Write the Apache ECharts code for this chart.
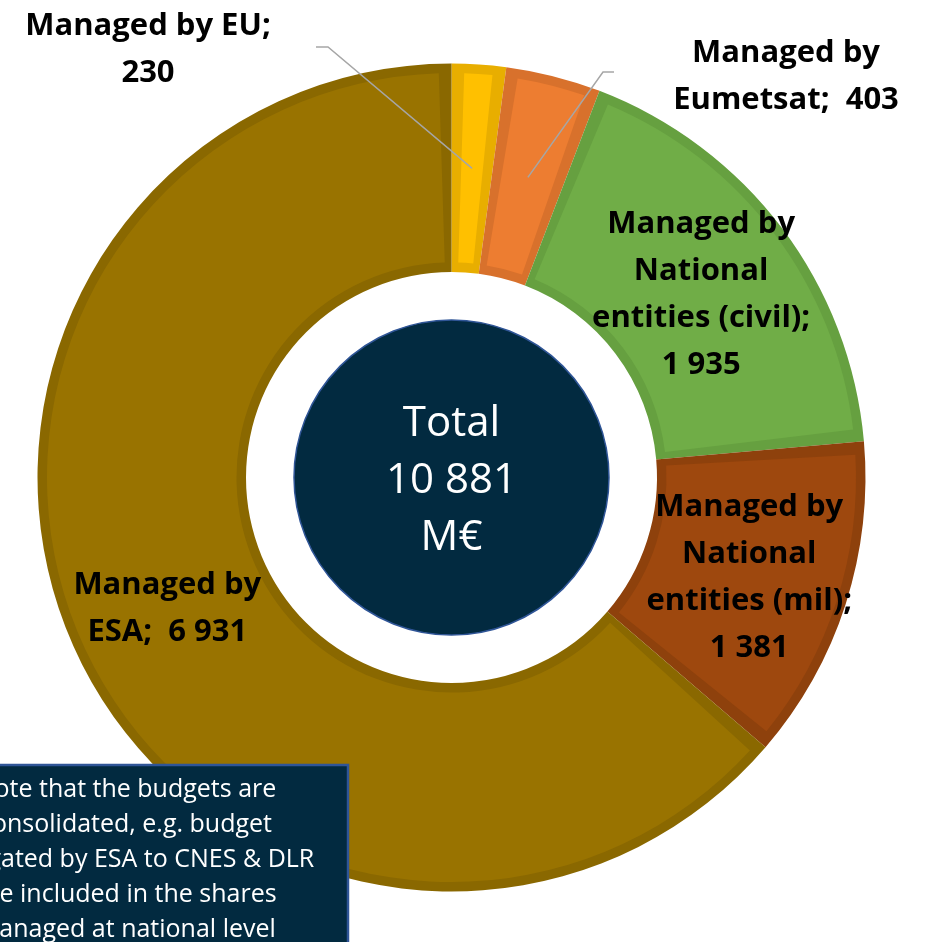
<!DOCTYPE html>
<html>
<head>
<meta charset="utf-8">
<title>Budget by managing entity</title>
<script src="https://cdn.jsdelivr.net/npm/echarts@6/dist/echarts.min.js"></script>
<style>
  html, body { margin: 0; padding: 0; background: #fff; }
  #chart { width: 930px; height: 942px; }
</style>
</head>
<body>
<div id="chart"></div>
<script>
// budget shares, M€ (clockwise from 12 o'clock)
const categories = ['Managed by EU;', 'Managed by\nEumetsat;', 'Managed by\nNational\nentities (civil);', 'Managed by\nNational\nentities (mil);', 'Managed by\nESA;']
const values = [230, 403, 1935, 1381, 6931]
const separators = ['\n', '  ', '\n', '\n', '  ']
const totalLines = ['Total', '10 881', 'M€']
const noteLines = ['Note that the budgets are', 'consolidated, e.g. budget', 'delegated by ESA to CNES & DLR', 'are included in the shares', 'managed at national level']

const fillColors = ['#FFC000', '#ED7D31', '#70AD47', '#9E480E', '#997300']
const edgeColors = ['#E8AE00', '#D8712C', '#66A040', '#8E410C', '#8A6800']
const navy = '#022A40'
const navyEdge = '#2F5597'

const cx = 451.5
const cy = 477.5
const rIn = 205.5
const rOut = 414
const edge = 9.5 // inner border thickness

// labels pulled out of the ring (EU, Eumetsat): label centre + leader elbow
const outside = {
  0: { x: 148, y: 50, elbow: [328, 47], end: [316, 47] },
  1: { x: 786, y: 77, elbow: [603, 72], end: [614, 72] }
}
// small nudges for the labels sitting in the ring
const insideOffset = { 2: [0, 6], 3: [0, 4], 4: [0, 1] }

const fmt = v => String(v).replace(/\B(?=(\d{3})+(?!\d))/g, ' ')
const sum = values.reduce((a, b) => a + b, 0)

// point in the middle of a slice (mid angle, mid radius)
function sliceMid(i) {
  let before = 0
  for (let k = 0; k < i; k++) before += values[k]
  const a = (before + values[i] / 2) / sum * Math.PI * 2
  const rm = (rIn + rOut) / 2
  return [cx + rm * Math.sin(a), cy - rm * Math.cos(a)]
}

const chart = echarts.init(document.getElementById('chart'))

const labelData = values.map((v, i) => {
  const item = { value: v, name: categories[i] }
  if (outside[i]) {
    item.label = { position: 'outside', width: 320 }
    item.labelLine = { show: true }
  } else {
    item.label = { position: 'inside', offset: insideOffset[i] }
    item.labelLine = { show: false }
  }
  return item
})

const option = {
  animation: false,
  series: [
    {
      // ring in the border colours
      type: 'pie',
      silent: true,
      z: 1,
      center: [cx, cy],
      radius: [rIn, rOut],
      startAngle: 90,
      label: { show: false },
      labelLine: { show: false },
      data: values.map((v, i) => ({ value: v, name: categories[i], itemStyle: { color: edgeColors[i] } }))
    },
    {
      // inner fill of each slice
      type: 'pie',
      silent: true,
      z: 2,
      center: [cx, cy],
      radius: [rIn + edge, rOut - edge],
      startAngle: 90,
      padAngle: 3.6,
      label: { show: false },
      labelLine: { show: false },
      data: values.map((v, i) => ({ value: v, name: categories[i], itemStyle: { color: fillColors[i] } }))
    },
    {
      // transparent copy that carries the labels and leader lines on top
      type: 'pie',
      silent: true,
      z: 3,
      center: [cx, cy],
      radius: [rIn + edge, rOut - edge],
      startAngle: 90,
      itemStyle: { color: 'rgba(0,0,0,0)' },
      label: {
        show: true,
        fontFamily: 'Open Sans',
        fontWeight: 'bold',
        fontSize: 31,
        lineHeight: 47,
        color: '#000',
        overflow: 'none',
        formatter: p => categories[p.dataIndex] + separators[p.dataIndex] + fmt(values[p.dataIndex])
      },
      labelLine: {
        lineStyle: { color: '#A6A6A6', width: 1.5 }
      },
      labelLayout: p => {
        const o = outside[p.dataIndex]
        if (!o) return {}
        return {
          x: o.x,
          y: o.y,
          align: 'center',
          verticalAlign: 'middle',
          labelLinePoints: [sliceMid(p.dataIndex), o.elbow, o.end]
        }
      },
      data: labelData
    },
    {
      // centre disc with the total
      type: 'pie',
      silent: true,
      z: 2,
      center: [cx, cy],
      radius: [0, 157.5],
      itemStyle: { color: navy, borderColor: navyEdge, borderWidth: 1.5 },
      label: {
        show: true,
        position: 'center',
        formatter: totalLines.join('\n'),
        color: '#fff',
        fontFamily: 'Open Sans',
        fontSize: 42,
        lineHeight: 57,
        offset: [0, 4]
      },
      labelLine: { show: false },
      data: [{ value: sum, name: 'Total' }]
    }
  ],
  graphic: [
    {
      type: 'group',
      silent: true,
      z: 100,
      children: [
        {
          type: 'rect',
          z: 100,
          shape: { x: -100, y: 765, width: 448, height: 220 },
          style: { fill: navy, stroke: navyEdge, lineWidth: 2.5 }
        },
        {
          type: 'text',
          z: 101,
          x: 126,
          y: 772,
          style: {
            text: noteLines.join('\n'),
            fill: '#fff',
            font: '25px "Open Sans"',
            lineHeight: 35,
            align: 'center'
          }
        }
      ]
    }
  ]
}

chart.setOption(option)
</script>
</body>
</html>
